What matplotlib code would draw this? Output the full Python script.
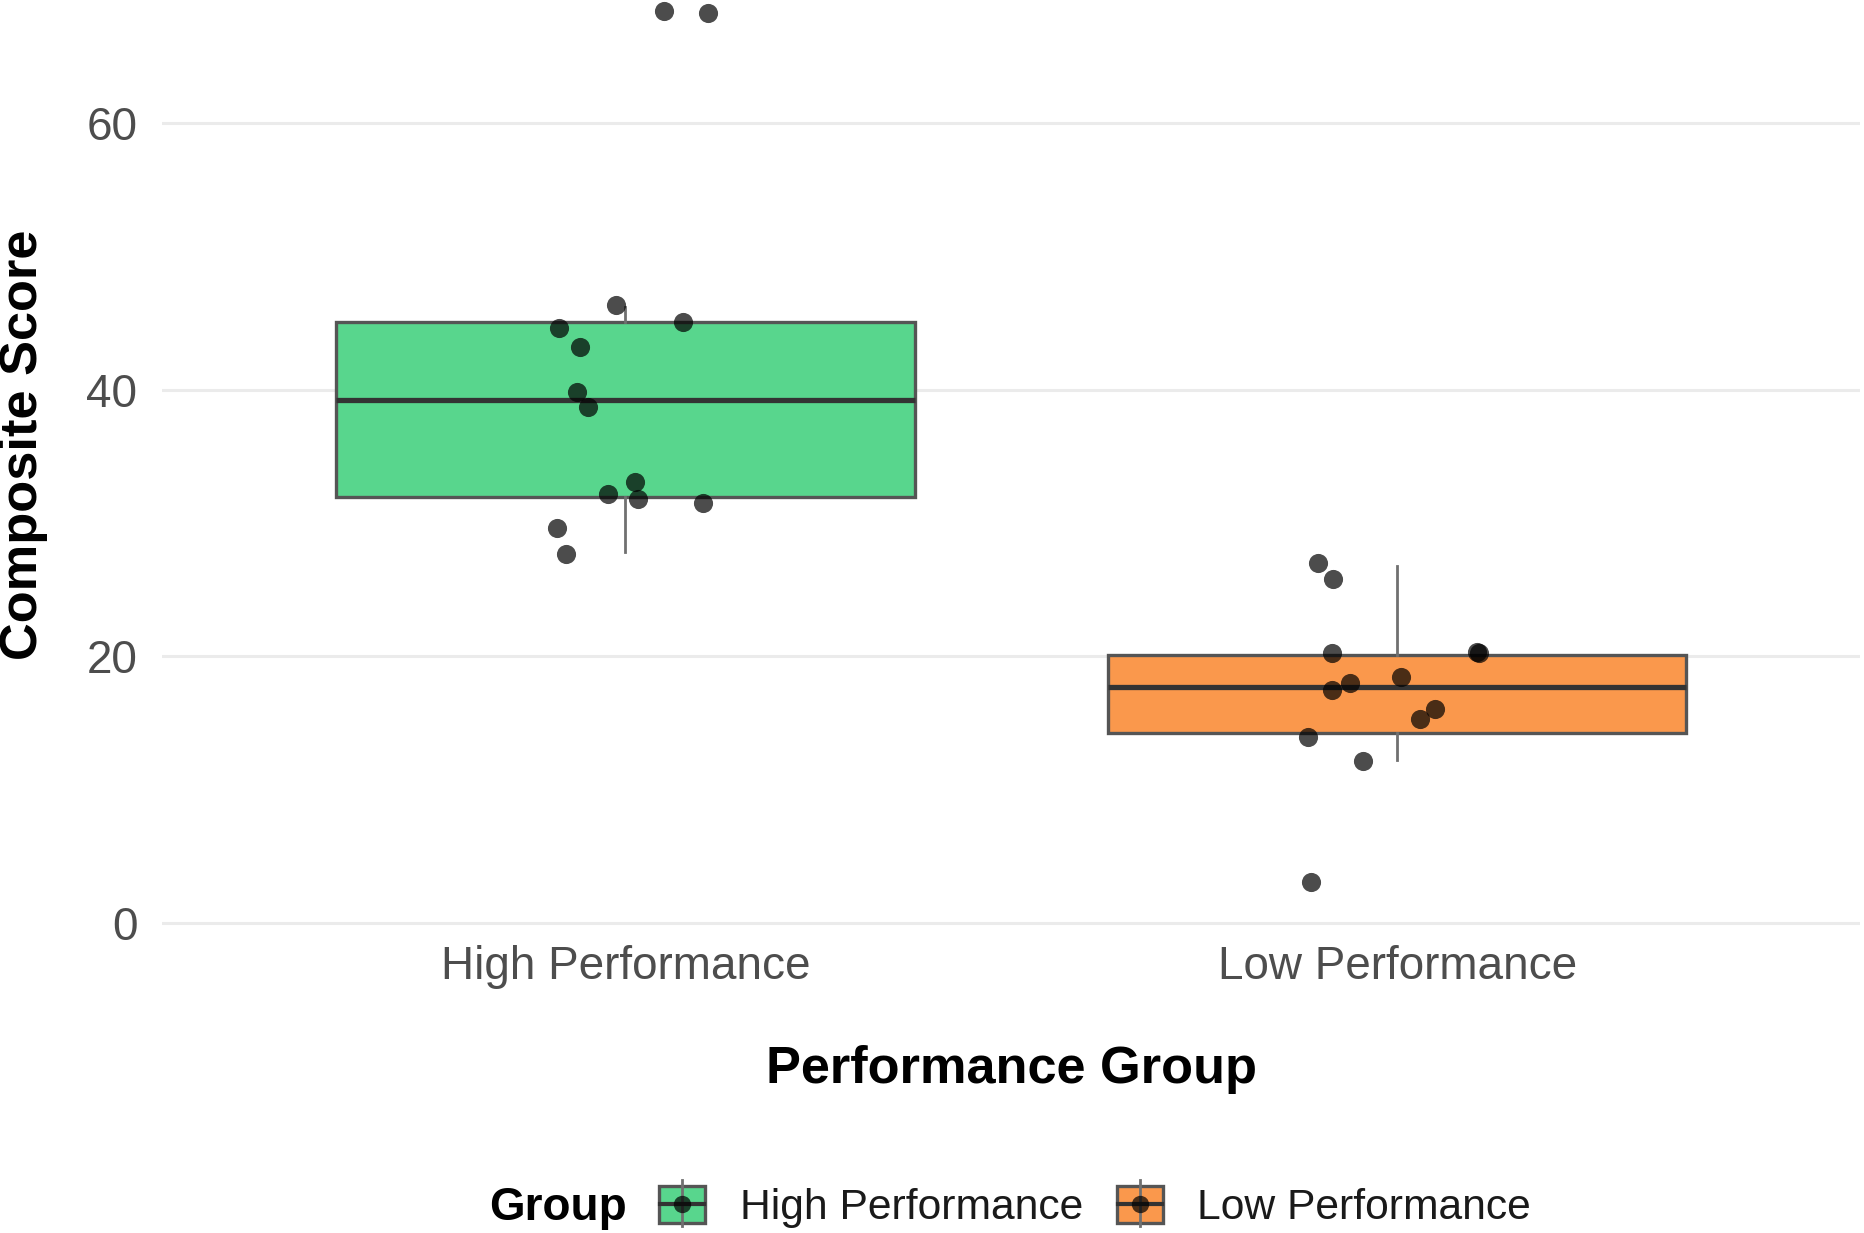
import numpy as np
import matplotlib
matplotlib.use('Agg')
import matplotlib.pyplot as plt
from matplotlib.patches import Rectangle
from matplotlib.lines import Line2D

plt.rcParams['font.family'] = ['Liberation Sans', 'DejaVu Sans']

# --- data ---
groups = ['High Performance', 'Low Performance']
colors = ['#58D68D', '#FA984C']

# box statistics (median, quartiles, whisker ends)
box_med = [39.2, 17.7]
box_q1 = [31.95, 14.25]
box_q3 = [45.05, 20.1]
box_lo = [27.8, 12.25]
box_hi = [46.2, 26.8]

# jittered points: horizontal offset from group centre, value
high_dx = [-0.086, -0.059, -0.012, 0.075, -0.063, -0.049, 0.012, -0.023, 0.017, 0.100, -0.088, -0.077, 0.050, 0.107]
high_val = [44.65, 43.2, 46.35, 45.1, 39.8, 38.7, 33.1, 32.2, 31.8, 31.5, 29.6, 27.7, 68.4, 68.2]
low_dx = [-0.103, -0.083, -0.084, 0.104, 0.106, -0.061, -0.084, 0.005, 0.049, 0.030, -0.115, -0.044, -0.112]
low_val = [27.0, 25.8, 20.26, 20.35, 20.25, 18.0, 17.5, 18.5, 16.1, 15.3, 14.0, 12.2, 3.1]

yticks = [0, 20, 40, 60]

W, H = 1864, 1233
fig = plt.figure(figsize=(W / 100, H / 100), dpi=100)
ax = fig.add_axes([0.0871, 0.249, 0.9108, 0.7812])

stats = []
for i in range(2):
    stats.append(dict(med=box_med[i], q1=box_q1[i], q3=box_q3[i],
                      whislo=box_lo[i], whishi=box_hi[i], fliers=[]))
bp = ax.bxp(stats, positions=[1, 2], widths=0.75, patch_artist=True,
            showcaps=False, showfliers=False,
            boxprops=dict(edgecolor='#555555', linewidth=2.4),
            whiskerprops=dict(color='#707070', linewidth=2.0),
            medianprops=dict(color='#333333', linewidth=3.8))
for patch, c in zip(bp['boxes'], colors):
    patch.set_facecolor(c)

ax.scatter(1 + np.array(high_dx), high_val, s=190, color='black', alpha=0.7, linewidths=0, zorder=5)
ax.scatter(2 + np.array(low_dx), low_val, s=190, color='black', alpha=0.7, linewidths=0, zorder=5)

ax.set_xlim(0.4, 2.6)
ax.set_ylim(-0.2, 72)
for s in ax.spines.values():
    s.set_visible(False)
ax.set_yticks(yticks)
ax.set_xticks([1, 2])
ax.set_xticklabels(groups)
ax.tick_params(axis='both', length=0, labelsize=33, labelcolor='#4D4D4D')
ax.tick_params(axis='y', pad=18)
ax.tick_params(axis='x', pad=14)
ax.yaxis.grid(True, color='#EBEBEB', linewidth=2.2)
ax.xaxis.grid(False)
ax.set_axisbelow(True)

# axis titles
fig.text(24 / W, 1 - 445 / H, 'Composite Score', rotation=90, ha='center', va='center',
         fontsize=37.7, fontweight='bold', color='black')
fig.text(1011 / W, 1 - 1070 / H, 'Performance Group', ha='center', va='center',
         fontsize=37.7, fontweight='bold', color='black')

# legend drawn at the bottom, ggplot style
def fx(px):
    return px / W

def fy(py):
    return 1 - py / H

fig.text(fx(489), fy(1208), 'Group', ha='left', va='center', fontsize=33,
         fontweight='bold', color='black')
key_left = [659, 1117]
label_left = [740, 1197]
for i in range(2):
    x0 = key_left[i]
    xc = x0 + 23
    fig.add_artist(Line2D([fx(xc), fx(xc)], [fy(1180), fy(1226)], color='#707070',
                          linewidth=2.0, transform=fig.transFigure))
    fig.add_artist(Rectangle((fx(x0), fy(1223)), fx(46), 37 / H, facecolor=colors[i],
                             edgecolor='#555555', linewidth=2.4, transform=fig.transFigure))
    fig.add_artist(Line2D([fx(x0 + 1), fx(x0 + 45)], [fy(1204), fy(1204)], color='#333333',
                          linewidth=3.0, transform=fig.transFigure))
    fig.add_artist(Line2D([fx(xc)], [fy(1204)], marker='o', markersize=12.5, color='black',
                          alpha=0.7, markeredgewidth=0, transform=fig.transFigure))
    fig.text(fx(label_left[i]), fy(1208), groups[i], ha='left', va='center', fontsize=30.7,
             color='#1A1A1A')

fig.savefig('out.png', dpi=100)
